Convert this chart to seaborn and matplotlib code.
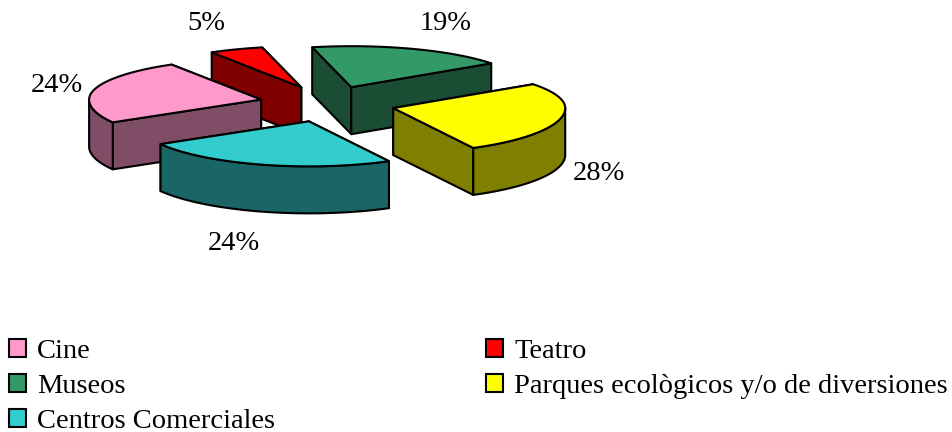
import numpy as np
import matplotlib
matplotlib.use("Agg")
import matplotlib.pyplot as plt
from matplotlib.patches import Patch
import seaborn as sns

categories = ["Cine", "Teatro", "Museos", "Parques ecològicos y/o de diversiones", "Centros Comerciales"]
values = [24, 5, 19, 28, 24]
top_colors = ["#FF99CC", "#FF0000", "#339966", "#FFFF00", "#33CCCC"]

sns.set_theme(style="white")
plt.rcParams["font.family"] = ["Liberation Serif", "DejaVu Serif"]

# layout of the fake 3d pie, in pixels
cx, cy = 327, 104
rx, ry_back, ry_front = 172, 41, 45
explode_x, explode_y = 68, 18
depth = 47
start = 207
label_xy = [(57, 85), (206, 24), (446, 24), (599, 174), (234, 243)]

palette = sns.color_palette(top_colors)
side_colors = [tuple(c / 2 for c in col) for col in palette]

fig = plt.figure(figsize=(9.52, 4.32), dpi=100)
ax = fig.add_axes([0, 0, 1, 1])
ax.set_xlim(0, 952)
ax.set_ylim(432, 0)
ax.axis("off")


def warp(t):
    # the front of the pie is closer to the viewer, so its angles open up
    return t + 2.5 - 2 * np.sin(np.radians(t))


def rim(t, ox, oy):
    s = np.sin(np.radians(t))
    ry = np.where(s > 0, ry_back, ry_front)
    return ox + rx * np.cos(np.radians(t)), oy - ry * s


def extrude(x, y):
    return np.r_[x, x[::-1]], np.r_[y, y[::-1] + depth]


angles = start - np.r_[0, np.cumsum(values)] / sum(values) * 360
slices = []
for i in range(len(values)):
    t0, t1 = angles[i], angles[i + 1]
    mid = np.radians(warp((t0 + t1) / 2))
    ox = cx + explode_x * np.cos(mid)
    oy = cy - explode_y * np.sin(mid)
    slices.append((i, t0, t1, ox, oy))

draw_order = [1, 2, 0, 3, 4]
edge = dict(edgecolor="black", linewidth=1.5, joinstyle="round")

for i in draw_order:
    _, t0, t1, ox, oy = slices[i]
    t = warp(np.linspace(t0, t1, 80))
    x, y = rim(t, ox, oy)

    # side faces, the ones further back go first
    faces = []
    for xe, ye in ((x[0], y[0]), (x[-1], y[-1])):
        faces.append(extrude(np.array([ox, xe]), np.array([oy, ye])))
    faces.sort(key=lambda f: f[1].mean())
    for fx, fy in faces:
        ax.fill(fx, fy, facecolor=side_colors[i], **edge)

    front = np.sin(np.radians(t)) <= 0
    if front.any():
        fx, fy = extrude(x[front], y[front])
        ax.fill(fx, fy, facecolor=side_colors[i], **edge)

    ax.fill(np.r_[ox, x], np.r_[oy, y], facecolor=palette[i], **edge)

for v, (lx, ly) in zip(values, label_xy):
    ax.text(lx, ly, f"{v}%", ha="center", va="center", fontsize=20.5, color="black")

order = [0, 2, 4, 1, 3]
handles = [Patch(facecolor=palette[i], edgecolor="black", linewidth=1.5, label=categories[i]) for i in order]
ax.legend(
    handles=handles,
    ncol=2,
    loc="lower left",
    bbox_to_anchor=(9 / 952, -0.004),
    frameon=False,
    fontsize=20.5,
    labelcolor="black",
    handlelength=0.6,
    handleheight=0.6,
    handletextpad=0.39,
    labelspacing=0.34,
    columnspacing=7.4,
    borderaxespad=0,
    borderpad=0,
)

fig.savefig("out.png", dpi=100)
